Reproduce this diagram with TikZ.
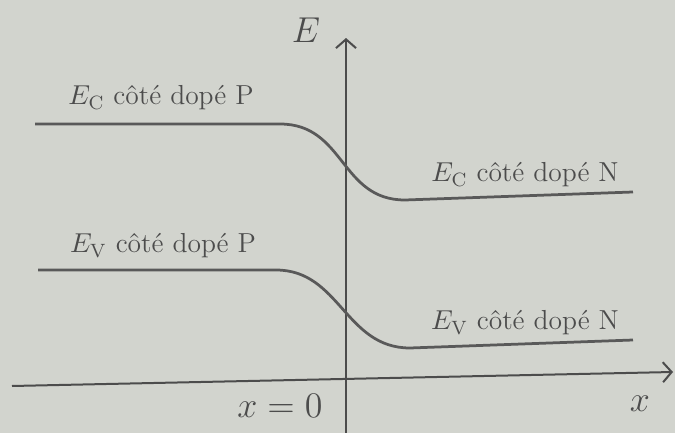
\documentclass[tikz,border=0pt]{standalone}
\usepackage{fontspec}
\usetikzlibrary{arrows.meta}
\begin{document}
\begin{tikzpicture}[x=0.4pt,y=-0.4pt,
  band/.style={line width=1.1pt, draw=black!65},
  axis/.style={line width=0.8pt, draw=black!70, -{Straight Barb[length=3.5pt,width=8pt]}},
  lbl/.style={text=black!70, font=\fontsize{11}{13}\selectfont, inner sep=0pt}]
\definecolor{bg}{RGB}{210,212,206}
\fill[bg] (0,0) rectangle (675,433);
\useasboundingbox (0,0) rectangle (675,433);
% axes
\coordinate (xl) at (12,386);
\coordinate (xr) at (673,372);
\coordinate (yb) at (346,440);
\coordinate (yt) at (346,38);
\draw[axis] (xl) -- (xr);
\draw[axis] (yb) -- (yt);
\node[lbl, font=\fontsize{15}{17}\selectfont] (E) at (306,30) {$E$};
\node[lbl, font=\fontsize{14}{16}\selectfont] (x0) at (280,406) {$x=0$};
\node[lbl, font=\fontsize{14}{16}\selectfont] (x) at (640,404) {$x$};
% bands
\draw[band] (35,124) -- (280,124) .. controls (345,124) and (340,200) .. (405,200) -- (633,192);
\draw[band] (38,270) -- (276,270) .. controls (340,270) and (345,348) .. (410,348) -- (633,340);
% labels
\node[lbl] (ecp) at (161,98) {$E_{\mathrm{C}}$ côté dopé P};
\node[lbl] (ecn) at (525,175) {$E_{\mathrm{C}}$ côté dopé N};
\node[lbl] (evp) at (163,246) {$E_{\mathrm{V}}$ côté dopé P};
\node[lbl] (evn) at (525,323) {$E_{\mathrm{V}}$ côté dopé N};
\end{tikzpicture}
\end{document}
